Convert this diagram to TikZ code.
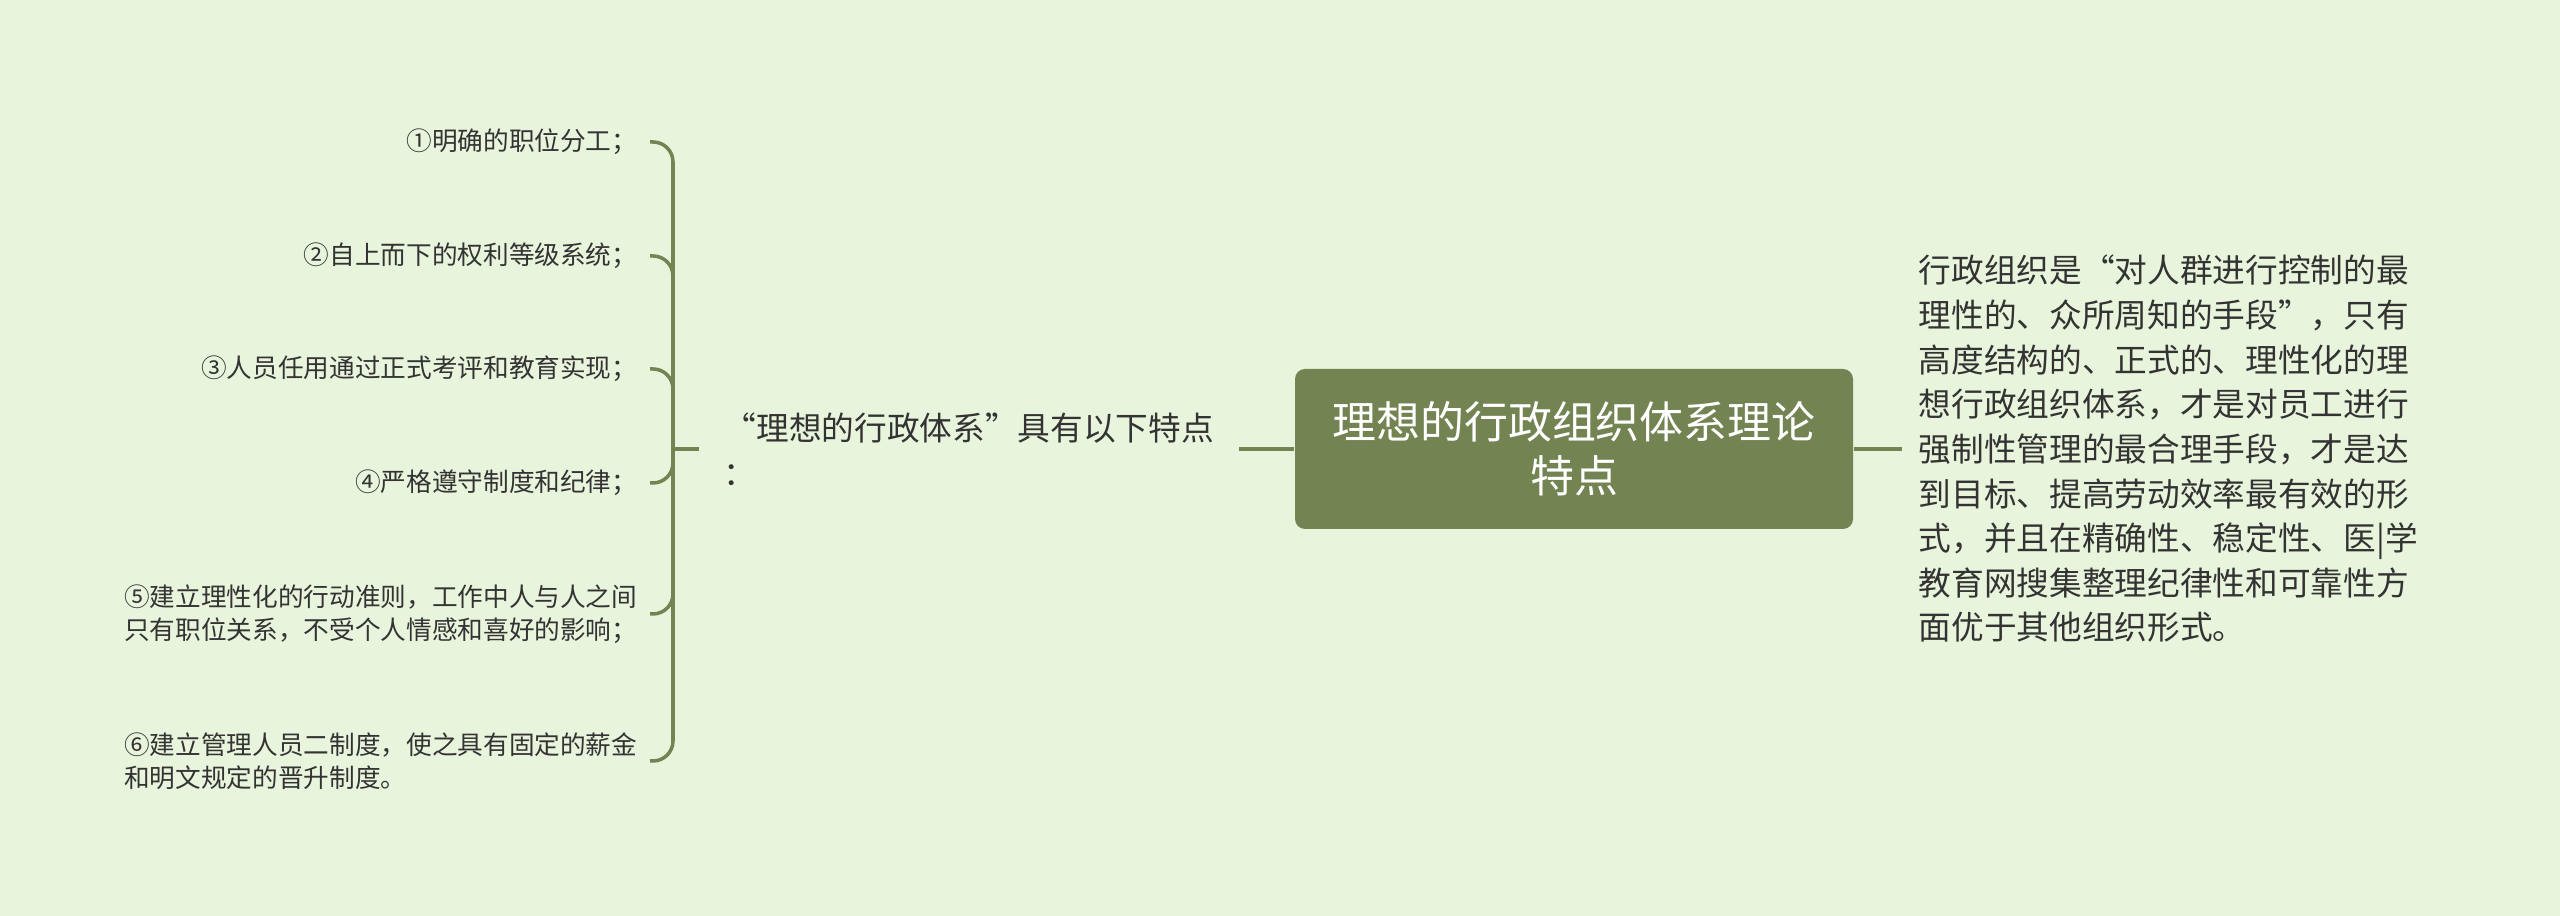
\documentclass[tikz,border=0pt]{standalone}
\usepackage{fontspec}
\newfontfamily\cjk{Noto Sans CJK SC}
\definecolor{bgcol}{RGB}{232,245,220}
\definecolor{olive}{RGB}{115,131,82}
\definecolor{txtcol}{RGB}{51,51,51}
\tikzset{
  rootbox/.style={fill=olive, rounded corners=0.1cm, minimum width=5.58cm,
    minimum height=1.6cm, text=white, font=\cjk\fontsize{12.5}{15.4}\selectfont,
    align=center, inner sep=0},
  midtext/.style={text=txtcol, font=\cjk\fontsize{9.3}{12.7}\selectfont,
    align=left, inner xsep=0.24cm, inner ysep=0},
  leaf/.style={text=txtcol, font=\cjk\fontsize{7.3}{9.4}\selectfont,
    align=left, anchor=east, inner xsep=0.12cm, inner ysep=0},
  link/.style={draw=olive, line width=1pt},
}

\begin{document}
\begin{tikzpicture}
    \fill[bgcol] (0,0) rectangle (25.6,9.16);
    \useasboundingbox (0,0) rectangle (25.6,9.16);

    % centre and the two branches
    \node[rootbox] (root) at (15.74,4.67) {理想的行政组织体系理论\\特点};
    \node[midtext, anchor=west] (mid) at (6.99,4.67) {“理想的行政体系”具有以下特点\\：};
    \node[midtext, anchor=west, inner xsep=0.16cm] (desc) at (19.02,4.67)
        {行政组织是“对人群进行控制的最\\理性的、众所周知的手段”，只有\\高度结构的、正式的、理性化的理\\想行政组织体系，才是对员工进行\\强制性管理的最合理手段，才是达\\到目标、提高劳动效率最有效的形\\式，并且在精确性、稳定性、医|学\\教育网搜集整理纪律性和可靠性方\\面优于其他组织形式。};

    % the six features
    \coordinate (spine) at (6.73,4.67);
    \node[leaf] (f1) at (6.50,7.74) {①明确的职位分工；};
    \node[leaf] (f2) at (6.50,6.60) {②自上而下的权利等级系统；};
    \node[leaf] (f3) at (6.50,5.47) {③人员任用通过正式考评和教育实现；};
    \node[leaf] (f4) at (6.50,4.33) {④严格遵守制度和纪律；};
    \node[leaf] (f5) at (6.50,3.02) {⑤建立理性化的行动准则，工作中人与人之间\\只有职位关系，不受个人情感和喜好的影响；};
    \node[leaf] (f6) at (6.50,1.55) {⑥建立管理人员二制度，使之具有固定的薪金\\和明文规定的晋升制度。};

    \draw[link] (root.west) -- (mid.east);
    \draw[link] (root.east) -- (desc.west);
    \draw[link] (mid.west) -- (spine);
    \foreach \i in {1,...,6}
        \draw[link, rounded corners=0.2cm] (spine) -- (spine |- f\i.east) -- (f\i.east);
\end{tikzpicture}
\end{document}
